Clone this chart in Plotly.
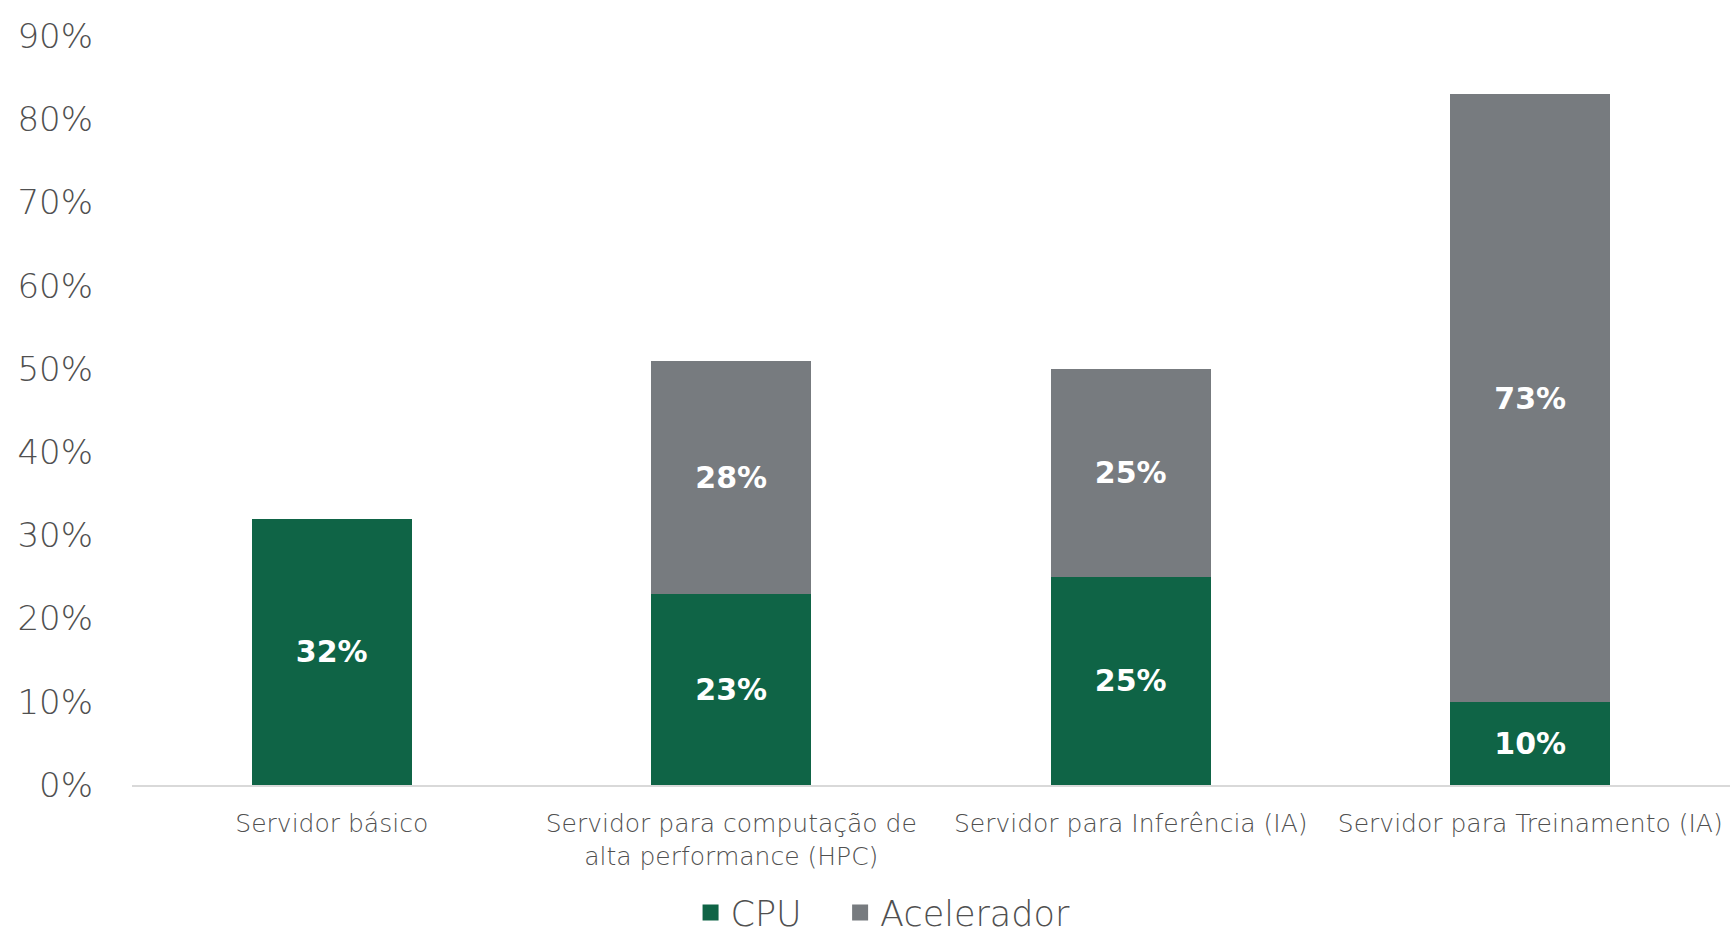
import plotly.graph_objects as go

categories = [
    "Servidor básico",
    "Servidor para computação de<br>alta performance (HPC)",
    "Servidor para Inferência (IA)",
    "Servidor para Treinamento (IA)",
]
cpu = [0.32, 0.23, 0.25, 0.10]
acelerador = [0.0, 0.28, 0.25, 0.73]
y_ticks = [0, 0.1, 0.2, 0.3, 0.4, 0.5, 0.6, 0.7, 0.8, 0.9]
y_tick_labels = ["0%", "10%", "20%", "30%", "40%", "50%", "60%", "70%", "80%", "90%"]
series_names = ["CPU", "Acelerador"]

GREEN = "#0F6446"
GRAY = "#777B7F"
TXT = "#505050"
FONT = "DejaVu Sans"

def lab(vals):
    return [f"{round(v*100)}%" if v > 0 else "" for v in vals]

fig = go.Figure()
for name, vals, col in [(series_names[0], cpu, GREEN), (series_names[1], acelerador, GRAY)]:
    fig.add_trace(go.Bar(
        x=categories, y=vals, name=name, marker=dict(color=col, line=dict(width=0)),
        text=lab(vals), textposition="inside", insidetextanchor="middle",
        textfont=dict(color="white", size=30, family=FONT, weight="bold"),
        textangle=0, showlegend=False,
    ))
# legend entries with larger square swatches
for i, (name, col) in enumerate([(series_names[0], GREEN), (series_names[1], GRAY)]):
    fig.add_trace(go.Scatter(
        x=[None], y=[None], mode="markers",
        name=name + ("\u00a0\u00a0\u00a0" if i == 0 else ""),
        marker=dict(symbol="square", size=24, color=col),
    ))

fig.update_layout(
    barmode="stack",
    bargap=0.6,
    width=1732, height=938,
    margin=dict(l=132, r=2, t=36, b=153, autoexpand=False),
    paper_bgcolor="white", plot_bgcolor="white",
    font=dict(family=FONT, color=TXT),
    uniformtext=dict(mode="show", minsize=10),
    legend=dict(
        orientation="h", x=0.47, xanchor="center", yref="container", y=0.027, yanchor="middle",
        font=dict(size=35, color=TXT, family=FONT, weight=300), itemsizing="trace",
        traceorder="normal", itemwidth=30,
    ),
    xaxis=dict(
        showgrid=False, showline=True, linecolor="#D9D9D9", linewidth=2,
        tickfont=dict(size=25, color=TXT, weight=300), ticks="", ticklabelstandoff=15,
        automargin=False,
    ),
    yaxis=dict(
        range=[0, 0.9], tickvals=y_ticks, ticktext=y_tick_labels,
        showgrid=False, zeroline=False, showline=False,
        tickfont=dict(size=34, color=TXT, weight=300), ticks="", ticklabelstandoff=38,
        automargin=False,
    ),
)

fig.write_html("out.html")
